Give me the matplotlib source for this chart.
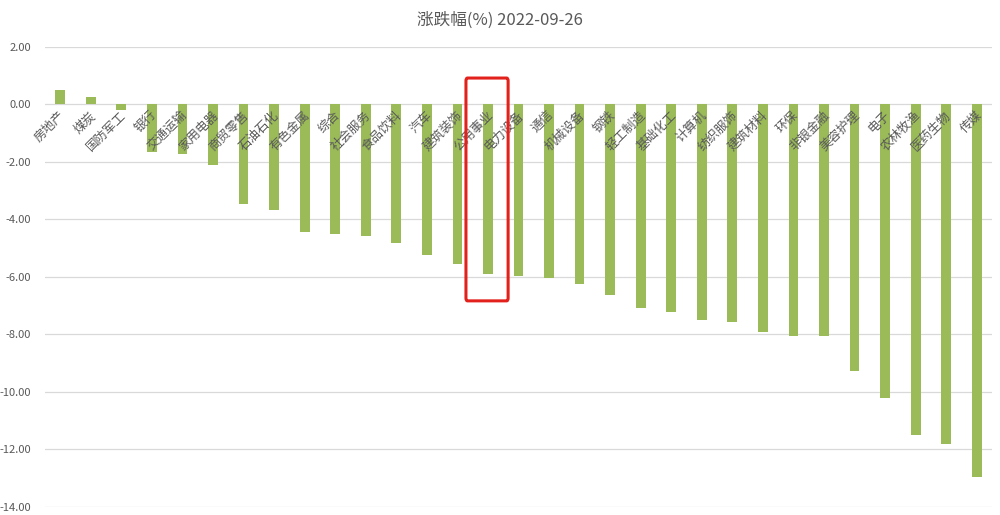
import matplotlib
matplotlib.use("Agg")
import matplotlib.pyplot as plt
from matplotlib.patches import FancyBboxPatch
from matplotlib.ticker import FormatStrFormatter

plt.rcParams['font.family'] = ['Noto Sans CJK SC', 'DejaVu Sans']
plt.rcParams['axes.unicode_minus'] = False

# 申万一级行业 涨跌幅(%) 2022-09-26
industries = ['房地产', '煤炭', '国防军工', '银行', '交通运输', '家用电器', '商贸零售',
              '石油石化', '有色金属', '综合', '社会服务', '食品饮料', '汽车', '建筑装饰',
              '公用事业', '电力设备', '通信', '机械设备', '钢铁', '轻工制造', '基础化工',
              '计算机', '纺织服饰', '建筑材料', '环保', '非银金融', '美容护理', '电子',
              '农林牧渔', '医药生物', '传媒']
changes = [0.49, 0.25, -0.20, -1.66, -1.73, -2.11, -3.48,
           -3.69, -4.43, -4.53, -4.60, -4.84, -5.26, -5.57,
           -5.92, -5.96, -6.06, -6.24, -6.65, -7.10, -7.24,
           -7.52, -7.56, -7.91, -8.05, -8.05, -9.28, -10.22,
           -11.49, -11.83, -12.95]
highlight = '公用事业'
title = '涨跌幅(%) 2022-09-26'

GREEN = '#9BBB59'
GRID = '#D9D9D9'
TEXT = '#595959'

fig = plt.figure(figsize=(10, 5.15), dpi=100)
ax = fig.add_axes([0.045, 0.0161, 0.947, 0.8932])

x = list(range(len(industries)))
ax.bar(x, changes, width=0.32, color=GREEN, zorder=2)

ax.set_xlim(-0.5, len(industries) - 0.5)
ax.set_ylim(-14, 2)
ax.set_yticks(range(-14, 3, 2))
ax.yaxis.set_major_formatter(FormatStrFormatter('%.2f'))
ax.tick_params(axis='y', length=0, labelsize=8, labelcolor=TEXT, pad=10)
ax.set_xticks([])
ax.grid(True, axis='y', color=GRID, linewidth=0.9, zorder=0)
for s in ax.spines.values():
    s.set_visible(False)

# 类别标签贴着0轴，斜45度
for i, name in enumerate(industries):
    ax.text(i + 0.1, -0.32, name, rotation=45, rotation_mode='anchor',
            ha='right', va='center', fontsize=9, color=TEXT, zorder=3)

# 红框标注
hi = industries.index(highlight)
box = FancyBboxPatch((hi - 0.72, -6.84), 1.38, 7.75,
                     boxstyle='round,pad=0,rounding_size=0.05',
                     fill=False, edgecolor='#E3211C', linewidth=2.2,
                     zorder=4, mutation_aspect=2)
ax.add_patch(box)

fig.text(0.5, 0.96, title, ha='center', va='center', fontsize=12, color=TEXT)

fig.savefig('out.png', dpi=100, facecolor='white')
